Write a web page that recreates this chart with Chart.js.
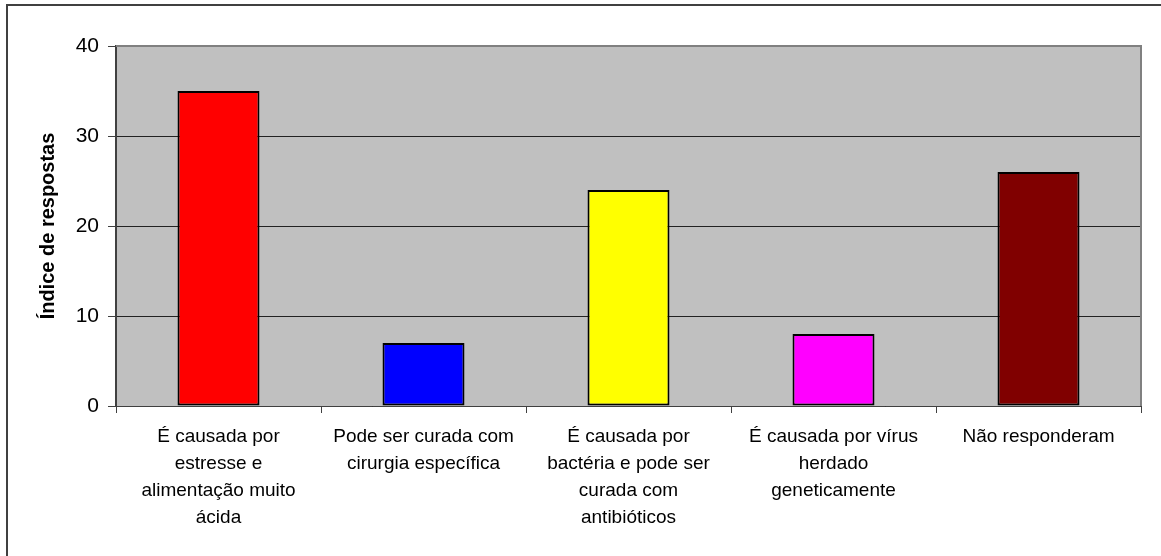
<!DOCTYPE html>
<html>
<head>
<meta charset="utf-8">
<script src="https://cdn.jsdelivr.net/npm/chart.js@4.4.0/dist/chart.umd.min.js"></script>
<style>
  body { margin: 0; background: #fff; }
  #wrap { position: relative; width: 1161px; height: 556px; overflow: hidden; }
  #frame { position: absolute; left: 6px; top: 4px; width: 1200px; height: 600px;
           border-left: 2px solid #404040; border-top: 2px solid #404040; }
  canvas { position: absolute; left: 0; top: 0; }
</style>
</head>
<body>
<div id="wrap">
  <div id="frame"></div>
  <canvas id="myChart" width="1161" height="556"></canvas>
</div>
<script>
const categorias = [
  ['É causada por', 'estresse e', 'alimentação muito', 'ácida'],
  ['Pode ser curada com', 'cirurgia específica'],
  ['É causada por', 'bactéria e pode ser', 'curada com', 'antibióticos'],
  ['É causada por vírus', 'herdado', 'geneticamente'],
  ['Não responderam']
];
const respostas = [35, 7, 24, 8, 26];
const cores = ['#ff0000', '#0000ff', '#ffff00', '#ff00ff', '#800000'];
const yTicks = [0, 10, 20, 30, 40];

// fundo cinza da área do gráfico + borda superior/direita
const fundoPlot = {
  id: 'fundoPlot',
  beforeDraw(chart) {
    const { ctx, chartArea: a } = chart;
    ctx.save();
    ctx.fillStyle = '#c0c0c0';
    ctx.fillRect(a.left, a.top, a.right - a.left, a.bottom - a.top);
    ctx.restore();
  },
  afterDatasetsDraw(chart) {
    const { ctx, chartArea: a } = chart;
    ctx.save();
    ctx.strokeStyle = '#808080';
    ctx.lineWidth = 2;
    ctx.beginPath();
    ctx.moveTo(a.left, a.top);
    ctx.lineTo(a.right, a.top);
    ctx.lineTo(a.right, a.bottom);
    ctx.stroke();
    ctx.restore();
  }
};

const ctx = document.getElementById('myChart').getContext('2d');

new Chart(ctx, {
  type: 'bar',
  data: {
    labels: categorias,
    datasets: [{
      label: 'Índice de respostas',
      data: respostas,
      backgroundColor: cores,
      borderColor: '#000',
      borderWidth: 2,
      borderSkipped: false,
      categoryPercentage: 1,
      barPercentage: 0.4
    }]
  },
  options: {
    responsive: false,
    animation: false,
    layout: { padding: { left: 36, right: 20, top: 46, bottom: 0 } },
    plugins: {
      legend: { display: false },
      tooltip: { enabled: false }
    },
    scales: {
      y: {
        min: 0,
        max: 40,
        afterFit(scale) { scale.width = 80; },
        afterBuildTicks(scale) { scale.ticks = yTicks.map(v => ({ value: v })); },
        border: { color: '#404040', width: 2 },
        grid: {
          color: c => (c.tick && c.tick.value === 40) ? 'rgba(0,0,0,0)' : '#222',
          tickColor: '#404040',
          lineWidth: 1,
          tickLength: 8
        },
        ticks: {
          color: '#000',
          padding: 9,
          font: { family: 'Liberation Sans, Arial', size: 21 }
        },
        title: {
          display: true,
          text: 'Índice de respostas',
          color: '#000',
          padding: { top: 0, bottom: 0 },
          font: { family: 'Liberation Sans, Arial', size: 20, weight: 'bold' }
        }
      },
      x: {
        afterFit(scale) { scale.height = 150; },
        border: { color: '#404040', width: 1 },
        grid: {
          offset: true,
          drawOnChartArea: false,
          color: '#404040',
          tickLength: 7
        },
        ticks: {
          color: '#000',
          padding: 10,
          maxRotation: 0,
          autoSkip: false,
          font: { family: 'Liberation Sans, Arial', size: 19, lineHeight: 1.42 }
        }
      }
    }
  },
  plugins: [fundoPlot]
});
</script>
</body>
</html>
